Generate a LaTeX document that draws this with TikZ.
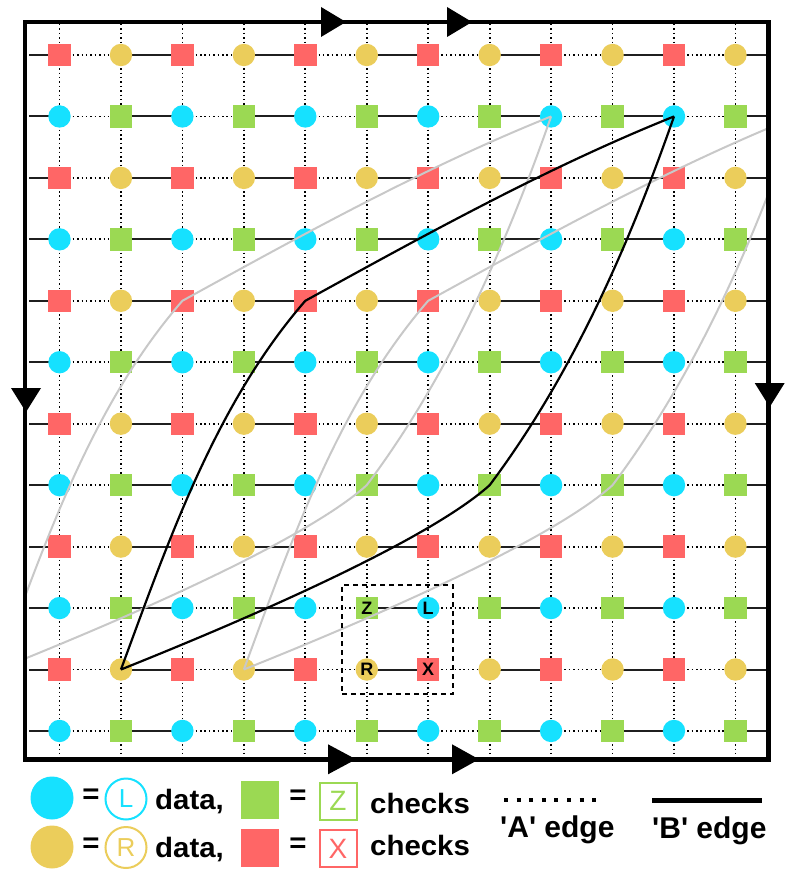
\documentclass[tikz,border=0pt]{standalone}
\usepackage{fontspec}
\setmainfont{Liberation Sans}
\newfontfamily\legfont[FakeStretch=1.05]{Liberation Sans}
\newfontfamily\edgefont[Ligatures=TeXOff]{Liberation Sans}
\definecolor{redc}{HTML}{FF6666}
\definecolor{yelc}{HTML}{EBCD5B}
\definecolor{cyac}{HTML}{16E1FF}
\definecolor{grnc}{HTML}{9BD953}
\definecolor{grayc}{HTML}{C8C8C8}
\pgfdeclarelayer{bg}
\pgfsetlayers{bg,main}
\newcommand\drawtorusloop[2]{%
  \draw[#2] ([xshift=#1]n-1-10.center) .. controls +(47.5,-128.5) and +(-90,103.5) .. ([xshift=#1]n-4-4.center)
     .. controls +(120,-66) and +(-127,51) .. ([xshift=#1]n-10-1.center);
  \draw[#2] ([xshift=#1]n-1-10.center) .. controls +(139,-55.6) and +(-59.4,53.5) .. ([xshift=#1]n-7-7.center)
     .. controls +(82.2,-109.6) and +(-45,129) .. ([xshift=#1]n-10-1.center);
}
\begin{document}
\begin{tikzpicture}[x=1pt,y=-1pt,
  sq/.style={rectangle, minimum size=22.4pt, inner sep=0pt, fill=#1},
  dt/.style={circle, minimum size=22.4pt, inner sep=0pt, fill=#1},
  bedge/.style={line width=2pt, draw=black!88},
  aedge/.style={line width=1.8pt, dash pattern=on 1.5pt off 2.9pt},
  curveB/.style={line width=2.2pt, black, line join=round},
  curveG/.style={line width=2pt, grayc, line join=round},
  glab/.style={font=\bfseries\fontsize{18}{18}\selectfont, inner sep=0pt},
  legtxt/.style={font=\legfont\bfseries\fontsize{28}{28}\selectfont, inner sep=0pt},
  edgetxt/.style={font=\edgefont\bfseries\fontsize{30}{30}\selectfont, inner sep=0pt, anchor=base west},
  tri/.style={fill=black}]
\useasboundingbox (0,0) rectangle (798,882);

% lattice nodes
\foreach \c in {0,...,11}{
  \foreach \r in {0,...,11}{
    \pgfmathsetmacro\xx{59.5+61.45*\c}
    \pgfmathsetmacro\yy{55+61.45*\r}
    \ifodd\r\relax
      \ifodd\c\relax \node[sq=grnc] (n-\c-\r) at (\xx,\yy) {};
      \else \node[dt=cyac] (n-\c-\r) at (\xx,\yy) {}; \fi
    \else
      \ifodd\c\relax \node[dt=yelc] (n-\c-\r) at (\xx,\yy) {};
      \else \node[sq=redc] (n-\c-\r) at (\xx,\yy) {}; \fi
    \fi
  }
}

% edges
\begin{pgfonlayer}{bg}
\foreach \r in {0,...,11}{
  \pgfmathsetmacro\yy{55+61.45*\r}
  \coordinate (hl-\r) at (29,\yy);
  \coordinate (hr-\r) at (767,\yy);
  \draw[bedge] (hl-\r) -- (n-0-\r.center);
  \draw[bedge] (n-11-\r.center) -- (hr-\r);
  \foreach \c in {0,...,10}{
    \pgfmathtruncatemacro\cn{\c+1}
    \ifodd\c\relax \draw[bedge] (n-\c-\r.center) -- (n-\cn-\r.center);
    \else \draw[aedge] (n-\c-\r.center) -- (n-\cn-\r.center); \fi
  }
}
\foreach \c in {0,...,11}{
  \pgfmathsetmacro\xx{59.5+61.45*\c}
  \coordinate (vt-\c) at (\xx,24);
  \coordinate (vb-\c) at (\xx,757);
  \draw[aedge] (vt-\c) -- (n-\c-0.center);
  \draw[aedge] (n-\c-11.center) -- (vb-\c);
  \foreach \r in {0,...,10}{
    \pgfmathtruncatemacro\rn{\r+1}
    \draw[aedge] (n-\c-\r.center) -- (n-\c-\rn.center);
  }
}
\end{pgfonlayer}

% gray translated copies
\begin{scope}
  \clip (27,24) rectangle (767,757);
  \drawtorusloop{-122.9pt}{curveG}
  \drawtorusloop{122.9pt}{curveG}
\end{scope}
% black loop
\drawtorusloop{0pt}{curveB}

% unit cell box and labels
\node[draw, line width=1.8pt, dash pattern=on 5pt off 4pt, minimum width=111pt, minimum height=109pt, inner sep=0pt] (cell) at (397.5,639.5) {};
\node[glab] (tZ) at (n-5-9) {Z};
\node[glab] (tL) at (n-6-9) {L};
\node[glab] (tR) at (n-5-10) {R};
\node[glab] (tX) at (n-6-10) {X};

% border
\draw[line width=4.5pt] (25,22) rectangle (768.7,759.3);
\fill[tri] (321,7) -- (346,22) -- (321,37) -- cycle;
\fill[tri] (447,7) -- (472,22) -- (447,37) -- cycle;
\fill[tri] (328,744.3) -- (356,759.3) -- (328,774.3) -- cycle;
\fill[tri] (452,744.3) -- (479,759.3) -- (452,774.3) -- cycle;
\fill[tri] (11,388) -- (26,412) -- (41,388) -- cycle;
\fill[tri] (754.7,383) -- (769.7,407) -- (784.7,383) -- cycle;

% legend
\node[dt=cyac, minimum size=43pt] (kL) at (52,798) {};
\node[dt=yelc, minimum size=43pt] (kR) at (52,847) {};
\node[legtxt] (e1) at (91,796) {=};
\node[legtxt] (e2) at (91,845) {=};
\node[circle, draw=cyac, line width=2pt, minimum size=41pt, inner sep=0pt, text=cyac, font=\fontsize{26}{26}\selectfont] (cL) at (126,799) {L};
\node[circle, draw=yelc, line width=2pt, minimum size=41pt, inner sep=0pt, text=yelc, font=\fontsize{26}{26}\selectfont] (cR) at (126,847.5) {R};
\node[legtxt, anchor=base west] (d1) at (155,809) {data,};
\node[legtxt, anchor=base west] (d2) at (155,857) {data,};
\node[sq=grnc, minimum size=38.5pt] (kZ) at (260,800) {};
\node[sq=redc, minimum size=38.5pt] (kX) at (260,848) {};
\node[legtxt] (e3) at (298,797) {=};
\node[legtxt] (e4) at (298,845) {=};
\node[rectangle, draw=grnc, line width=2pt, minimum size=37pt, inner sep=0pt, text=grnc, font=\fontsize{28}{28}\selectfont] (bZ) at (338,801) {Z};
\node[rectangle, draw=redc, line width=2pt, minimum size=37pt, inner sep=0pt, text=redc, font=\fontsize{28}{28}\selectfont] (bX) at (338,848.5) {X};
\node[legtxt, anchor=base west] (c1) at (370,813) {checks};
\node[legtxt, anchor=base west] (c2) at (370,855) {checks};

\coordinate (la1) at (504,800);
\coordinate (la2) at (604,800);
\draw[line width=4pt, dash pattern=on 4pt off 8.6pt] (la1) -- (la2);
\node[edgetxt] (ta) at (500,837) {'A' edge};
\coordinate (lb1) at (652,800);
\coordinate (lb2) at (762,800);
\draw[line width=5pt] (lb1) -- (lb2);
\node[edgetxt] (tb) at (652,838) {'B' edge};
\end{tikzpicture}
\end{document}
